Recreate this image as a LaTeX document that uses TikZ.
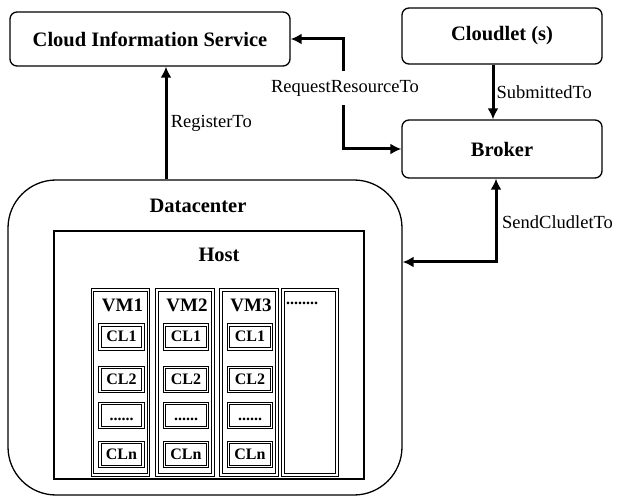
\documentclass[tikz,border=0pt]{standalone}
\usepackage{fontspec}
\setmainfont{Liberation Serif}
\usetikzlibrary{arrows.meta}
\newcommand{\cldots}{......}

\begin{document}
\begin{tikzpicture}[x=1pt,y=-1pt,
  box/.style={draw,line width=1.3pt,rounded corners=7pt,font=\fontsize{20.5}{22}\selectfont\bfseries},
  title/.style={font=\fontsize{20.5}{22}\selectfont\bfseries},
  vmcol/.style={draw,line width=1pt,double,double distance=1.6pt,minimum height=185pt},
  vmlbl/.style={font=\fontsize{19}{21}\selectfont\bfseries,inner sep=0pt},
  clbox/.style={draw,line width=1pt,double,double distance=1.6pt,minimum width=43pt,minimum height=24pt,
    inner sep=0pt,text height=11pt,text depth=2pt,font=\fontsize{16}{18}\selectfont\bfseries},
  lbl/.style={font=\fontsize{18.5}{20}\selectfont},
  link/.style={line width=3pt,{Latex[length=11pt,width=11pt]}-{Latex[length=11pt,width=11pt]}},
  link1/.style={line width=3pt,-{Latex[length=11pt,width=11pt]}}]
\useasboundingbox (0,0) rectangle (619,497);
\node[box,minimum width=280pt,minimum height=54pt] (cis) at (150,39) {Cloud Information Service};
\node[box,minimum width=200pt,minimum height=56pt] (cloudlet) at (502,36) {Cloudlet (s)};
\node[box,minimum width=200pt,minimum height=58pt] (broker) at (502,149) {Broker};
\node[draw,line width=1.3pt,rounded corners=48pt,minimum width=394pt,minimum height=315pt] (dc) at (205,337.5) {};
\node[title] (dclbl) at (198,206) {Datacenter};
\node[draw,line width=1.3pt,minimum width=310pt,minimum height=248pt] (host) at (209,355) {};
\node[title] (hostlbl) at (219,255) {Host};
\foreach \i/\x in {1/120.5,2/185,3/249} {
  \node[vmcol,minimum width=56pt] (vm\i) at (\x,382.5) {};
  \node[vmlbl] (vmlbl\i) at (\x+2,305) {VM\i};
  \foreach \j/\y/\t in {1/337/CL1,2/379.5/CL2,3/415.5/\cldots,4/454.5/CLn}
    \node[clbox] (cl\i\j) at (\x+1,\y) {\t};
}
\node[vmcol,minimum width=54pt] (vm4) at (310,382.5) {};
\node[vmlbl,anchor=west,font=\fontsize{16}{18}\selectfont\bfseries] (vmdots) at (286,303) {........};
\coordinate (rq) at (343,88);
\draw[link] (cis.east) -| (rq) |- (broker.west);
\node[lbl,fill=white,inner xsep=1pt,inner ysep=9pt] (rqlbl) at (345,88) {RequestResourceTo};
\draw[link1] ([xshift=-9pt]cloudlet.south) -- node[lbl,right,inner xsep=2pt] (sublbl) {SubmittedTo} ([xshift=-9pt]broker.north);
\coordinate (reg) at (166,120);
\draw[link1] (dc.north -| reg) -- node[lbl,right] (reglbl) {RegisterTo} (cis.south -| reg);
\coordinate (snd) at (496,262);
\draw[link] (broker.south -| snd) -- (snd) -- (dc.east |- snd);
\node[lbl,anchor=west,inner sep=2pt] (sndlbl) at (500,222) {SendCludletTo};
\end{tikzpicture}
\end{document}
